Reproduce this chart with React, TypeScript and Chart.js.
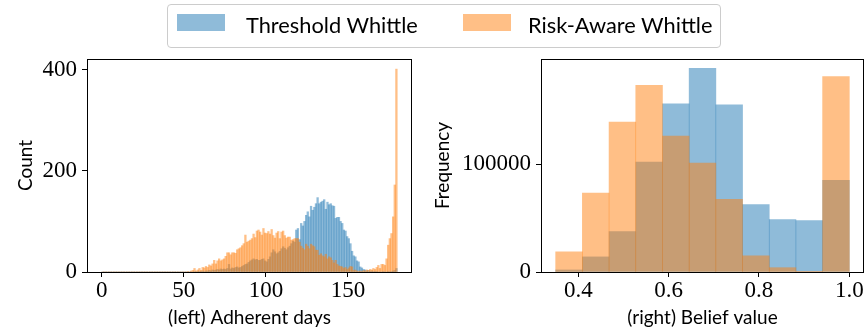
import React, { useEffect, useRef } from "react";
import { Chart, registerables } from "chart.js";

Chart.register(...registerables);

// ---------- data ----------
const seriesNames = ["Threshold Whittle", "Risk-Aware Whittle"];

// Left panel: histogram of adherent days, one bin per day (bin start = index)
const adherentDayBinWidth = 1;
const adherentDayTicks = [0, 50, 100, 150];
const countTicks = [0, 200, 400];

// Threshold Whittle counts for day bins 0..179
const thresholdDayCounts = [
  0, 0, 0, 0, 0, 0, 0, 0, 0, 0,
  0, 0, 0, 0, 0, 0, 0, 0, 0, 0,
  0, 0, 0, 0, 0, 0, 0, 0, 0, 0,
  0, 0, 0, 0, 0, 0, 0, 0, 0, 0,
  0, 0, 0, 0, 0, 0, 0, 0, 0, 0,
  0, 0, 0, 0, 0, 0, 1, 0, 1, 1,
  1, 2, 1, 2, 2, 3, 2, 4, 3, 4,
  5, 4, 6, 5, 6, 5, 7, 15, 6, 8,
  7, 9, 10, 8, 9, 11, 13, 15, 16, 19,
  22, 24, 26, 24, 25, 23, 23, 25, 26, 22,
  20, 25, 30, 38, 44, 40, 36, 38, 41, 46,
  50, 47, 44, 48, 51, 56, 61, 59, 83, 86,
  64, 96, 91, 100, 112, 119, 109, 130, 122, 128,
  135, 147, 135, 138, 140, 143, 124, 138, 133, 135,
  131, 130, 106, 108, 108, 100, 96, 83, 81, 70,
  66, 56, 41, 32, 30, 22, 20, 10, 8, 5,
  4, 2, 3, 1, 2, 1, 1, 1, 0, 0,
  0, 1, 0, 0, 1, 0, 1, 2, 3, 7,
];

// Risk-Aware Whittle counts for day bins 0..179
const riskAwareDayCounts = [
  0, 0, 0, 0, 0, 0, 0, 0, 0, 0,
  0, 0, 0, 0, 0, 0, 0, 0, 0, 0,
  0, 0, 0, 0, 0, 0, 0, 0, 0, 0,
  0, 0, 0, 0, 0, 0, 0, 0, 0, 0,
  0, 0, 0, 0, 0, 0, 0, 0, 0, 0,
  0, 0, 1, 0, 2, 3, 7, 2, 4, 7,
  3, 9, 8, 11, 9, 14, 12, 16, 23, 16,
  22, 26, 22, 24, 26, 31, 38, 38, 34, 38,
  38, 37, 44, 46, 48, 52, 56, 73, 59, 61,
  63, 66, 75, 68, 81, 83, 79, 73, 86, 77,
  76, 80, 75, 84, 72, 67, 77, 80, 66, 79,
  81, 72, 67, 69, 69, 63, 64, 66, 66, 66,
  59, 51, 47, 44, 55, 51, 46, 55, 52, 50,
  43, 43, 33, 36, 32, 30, 35, 26, 30, 28,
  23, 18, 23, 15, 12, 11, 10, 7, 9, 5,
  8, 11, 10, 3, 4, 2, 1, 2, 1, 3,
  2, 4, 3, 5, 4, 7, 5, 9, 13, 7,
  15, 15, 13, 26, 53, 66, 76, 109, 172, 401,
];

// Right panel: histogram of belief values, 11 equal bins from 0.35 to 1.0
const beliefRangeStart = 0.35;
const beliefRangeEnd = 1.0;
const beliefTicks = [0.4, 0.6, 0.8, 1.0];
const frequencyTicks = [0, 100000];
const thresholdBeliefFreq = [1900, 14000, 37400, 101900, 156000, 188800, 155000, 62600, 48600, 47700, 85000];
const riskAwareBeliefFreq = [18700, 73200, 139000, 173000, 126000, 101000, 67300, 15000, 4000, 600, 181300];

// ---------- styles ----------
const BLUE = "rgba(31,119,180,0.5)";
const ORANGE = "rgba(255,127,14,0.5)";
const TICK_FONT = { family: "'Liberation Serif', serif", size: 23, lineHeight: 1 };
const TITLE_FONT = { family: "Lato, 'Open Sans', sans-serif", size: 19, lineHeight: 1 };

const framePlugin = {
  id: "frame",
  afterDraw(chart: any) {
    const { ctx, chartArea } = chart;
    const l = Math.round(chartArea.left) + 0.5;
    const t = Math.round(chartArea.top) + 0.5;
    const r = Math.round(chartArea.right) - 0.5;
    const b = Math.round(chartArea.bottom) + 0.5;
    ctx.save();
    ctx.strokeStyle = "#000";
    ctx.lineWidth = 1;
    ctx.strokeRect(l, t, r - l, b - t);
    ctx.restore();
  },
};

function histPoints(counts: number[], start: number, width: number) {
  return counts.map((c, i) => ({ x: start + width * (i + 0.5), y: c }));
}

function makeOptions(opts: {
  xMin: number; xMax: number; yMax: number; xTicks: number[]; yTicks: number[];
  xTitle: string; yTitle: string; yWidth: number; yTitlePad: number; padRight: number;
  xFmt: (v: number) => string;
}) {
  return {
    responsive: false,
    animation: false as const,
    devicePixelRatio: 1,
    layout: { padding: { top: 59, right: opts.padRight, bottom: 0, left: 0 } },
    plugins: { legend: { display: false }, tooltip: { enabled: false } },
    events: [],
    datasets: { bar: { grouped: false, barPercentage: 1, categoryPercentage: 1, borderWidth: 0 } },
    scales: {
      x: {
        type: "linear" as const,
        offset: false,
        min: opts.xMin,
        max: opts.xMax,
        afterBuildTicks: (s: any) => { s.ticks = opts.xTicks.map((value) => ({ value })); },
        afterFit: (s: any) => { s.height = 61; },
        grid: { display: true, drawOnChartArea: false, drawTicks: true, tickLength: 5, color: "#000", offset: false },
        border: { display: false },
        ticks: { font: TICK_FONT, color: "#000", padding: 2, autoSkip: false, maxRotation: 0, callback: (v: any) => opts.xFmt(Number(v)) },
        title: { display: true, text: opts.xTitle, font: TITLE_FONT, color: "#000", padding: { top: 0, bottom: 6 } },
      },
      y: {
        type: "linear" as const,
        min: 0,
        max: opts.yMax,
        afterBuildTicks: (s: any) => { s.ticks = opts.yTicks.map((value) => ({ value })); },
        afterFit: (s: any) => { s.width = opts.yWidth; },
        grid: { display: true, drawOnChartArea: false, drawTicks: true, tickLength: 5, color: "#000" },
        border: { display: false },
        ticks: { font: TICK_FONT, color: "#000", padding: 5, autoSkip: false, callback: (v: any) => String(v) },
        title: { display: true, text: opts.yTitle, font: TITLE_FONT, color: "#000", padding: { top: opts.yTitlePad, bottom: 0 } },
      },
    },
  };
}

export default function App() {
  const leftRef = useRef<HTMLCanvasElement>(null);
  const rightRef = useRef<HTMLCanvasElement>(null);

  useEffect(() => {
    const beliefWidth = (beliefRangeEnd - beliefRangeStart) / thresholdBeliefFreq.length;
    const left = new Chart(leftRef.current!, {
      type: "bar",
      data: {
        datasets: [
          { label: seriesNames[0], data: histPoints(thresholdDayCounts, 0, adherentDayBinWidth), backgroundColor: BLUE, order: 1 },
          { label: seriesNames[1], data: histPoints(riskAwareDayCounts, 0, adherentDayBinWidth), backgroundColor: ORANGE, order: 0 },
        ],
      },
      options: makeOptions({
        xMin: -9, xMax: 189, yMax: 421, xTicks: adherentDayTicks, yTicks: countTicks,
        xTitle: "(left) Adherent days", yTitle: "Count", yWidth: 87, yTitlePad: 16, padRight: 18,
        xFmt: (v) => String(v),
      }) as any,
      plugins: [framePlugin],
    });
    const right = new Chart(rightRef.current!, {
      type: "bar",
      data: {
        datasets: [
          { label: seriesNames[0], data: histPoints(thresholdBeliefFreq, beliefRangeStart, beliefWidth), backgroundColor: BLUE, order: 1 },
          { label: seriesNames[1], data: histPoints(riskAwareBeliefFreq, beliefRangeStart, beliefWidth), backgroundColor: ORANGE, order: 0 },
        ],
      },
      options: makeOptions({
        xMin: 0.3175, xMax: 1.0325, yMax: 197500, xTicks: beliefTicks, yTicks: frequencyTicks,
        xTitle: "(right) Belief value", yTitle: "Frequency", yWidth: 111, yTitlePad: 3, padRight: 2,
        xFmt: (v) => v.toFixed(1),
      }) as any,
      plugins: [framePlugin],
    });
    return () => { left.destroy(); right.destroy(); };
  }, []);

  const legendText: React.CSSProperties = {
    position: "absolute", top: 8, fontFamily: "Lato, 'Open Sans', sans-serif", fontSize: 21.8, lineHeight: "24px", color: "#000", whiteSpace: "nowrap",
  };

  return (
    <div style={{ position: "fixed", left: 0, top: 0, width: 866, height: 333, background: "#fff", overflow: "hidden" }}>
      <canvas ref={leftRef} width={430} height={333} style={{ position: "absolute", left: 0, top: 0, width: 430, height: 333 }} />
      <canvas ref={rightRef} width={436} height={333} style={{ position: "absolute", left: 430, top: 0, width: 436, height: 333 }} />
      <div style={{ position: "absolute", left: 167, top: 4, width: 554, height: 44, boxSizing: "border-box", border: "1px solid #cccccc", borderRadius: 4, background: "rgba(255,255,255,0.8)" }}>
        <div style={{ position: "absolute", left: 9, top: 9, width: 48, height: 17, background: BLUE }} />
        <div style={{ ...legendText, left: 78 }}>{seriesNames[0]}</div>
        <div style={{ position: "absolute", left: 295, top: 9, width: 48, height: 17, background: ORANGE }} />
        <div style={{ ...legendText, left: 360 }}>{seriesNames[1]}</div>
      </div>
    </div>
  );
}
